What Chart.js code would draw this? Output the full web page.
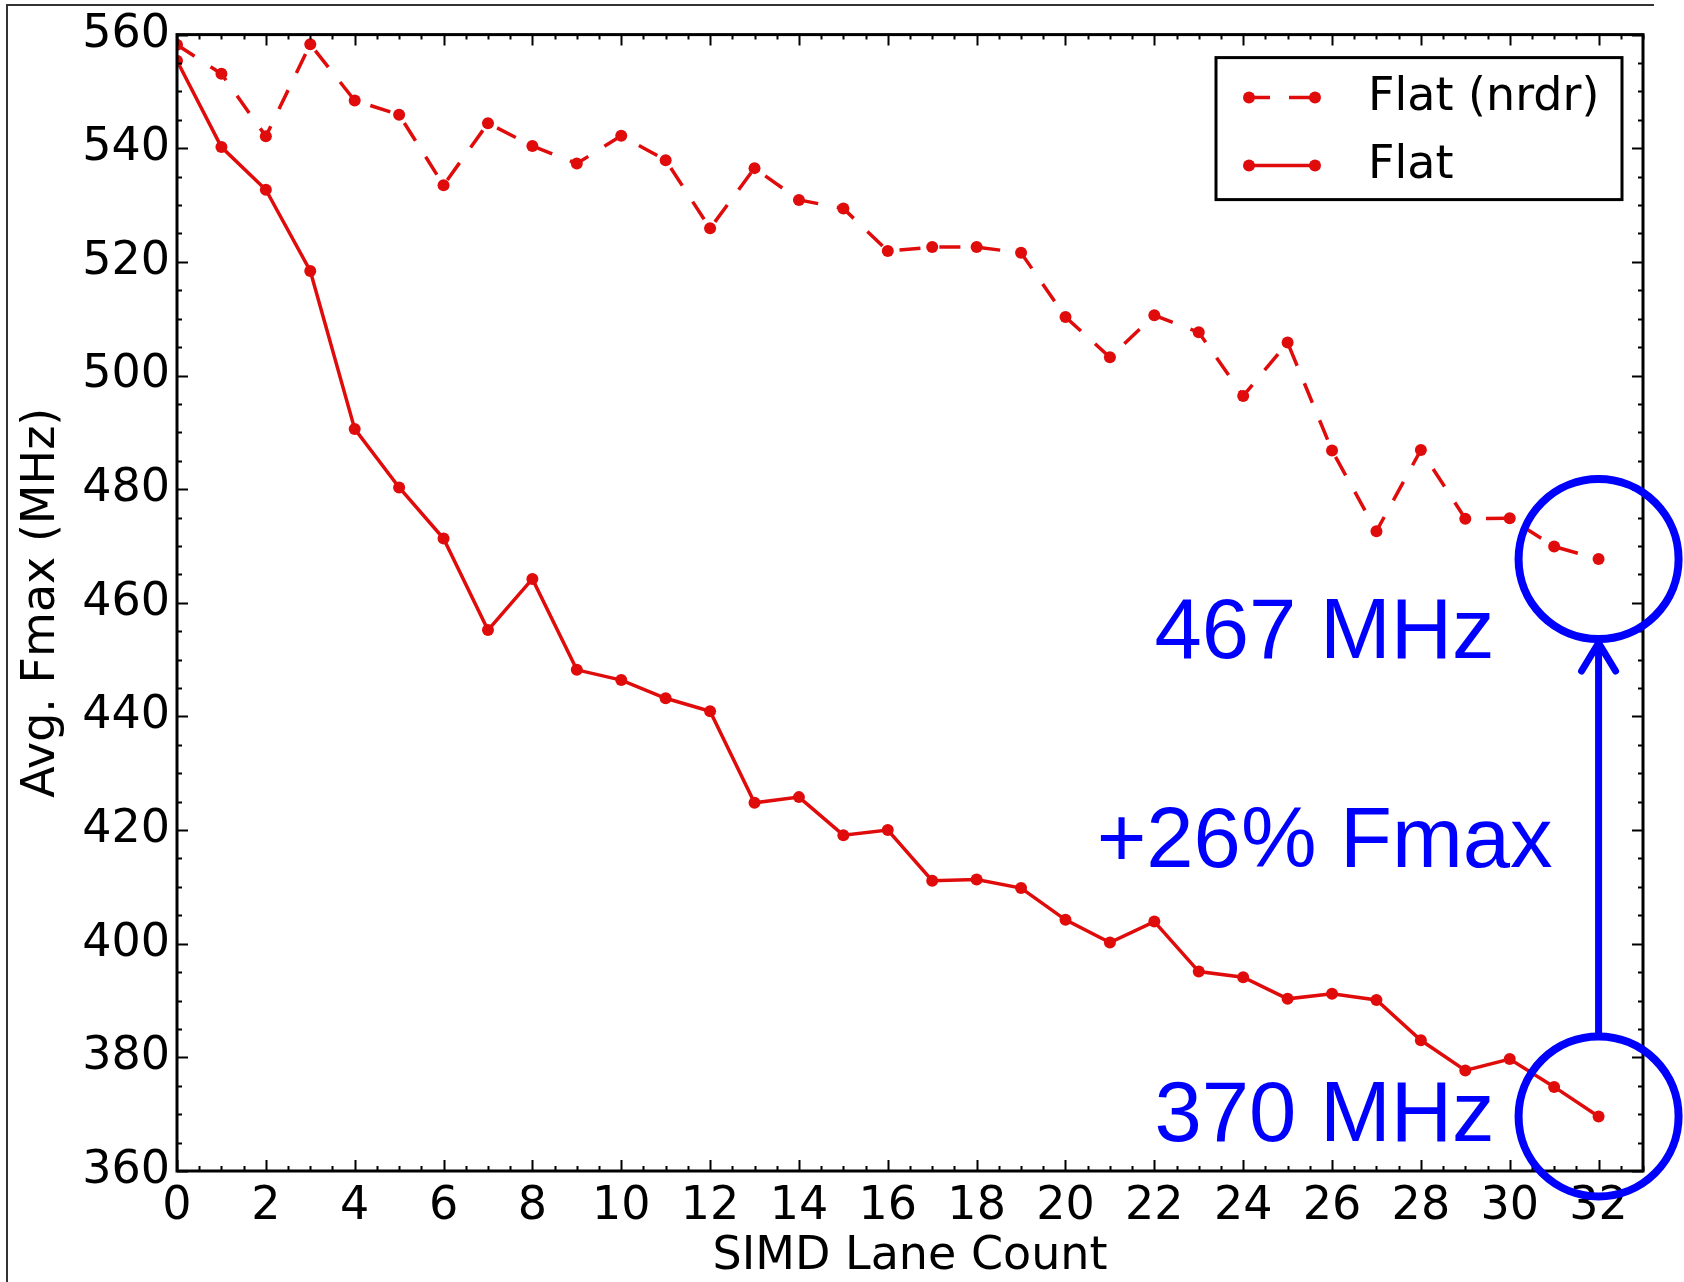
<!DOCTYPE html>
<html>
<head>
<meta charset="utf-8">
<script src="https://cdn.jsdelivr.net/npm/chart.js@4.4.0/dist/chart.umd.min.js"></script>
<style>
    html, body { margin: 0; padding: 0; background: #fff; }
    #contenedor { width: 1684px; height: 1282px; }
</style>
</head>
<body>
<div id="contenedor"><canvas id="graficaFmax" width="1684" height="1282"></canvas></div>
<script>
// Datos (Fmax promedio en MHz por número de carriles SIMD)
const laneCounts = [0, 1, 2, 3, 4, 5, 6, 7, 8, 9, 10, 11, 12, 13, 14, 15, 16,
                    17, 18, 19, 20, 21, 22, 23, 24, 25, 26, 27, 28, 29, 30, 31, 32];
const flatNrdr = [558.2, 553.1, 542.1, 558.3, 548.4, 545.9, 533.5, 544.4, 540.4, 537.3, 542.2,
                  537.9, 525.9, 536.5, 530.9, 529.4, 521.9, 522.6, 522.6, 521.6, 510.3, 503.2,
                  510.6, 507.6, 496.4, 505.8, 486.8, 472.6, 486.9, 474.8, 474.9, 469.9, 467.7];
const flat = [555.4, 540.2, 532.7, 518.4, 490.6, 480.3, 471.3, 455.2, 464.2, 448.2, 446.4,
              443.2, 440.9, 424.8, 425.8, 419.1, 420.0, 411.1, 411.3, 409.8, 404.2, 400.2,
              403.9, 395.1, 394.1, 390.3, 391.2, 390.1, 383.0, 377.7, 379.7, 374.8, 369.6];
const xTicks = [0, 2, 4, 6, 8, 10, 12, 14, 16, 18, 20, 22, 24, 26, 28, 30, 32];
const yTicks = [360, 380, 400, 420, 440, 460, 480, 500, 520, 540, 560];
const seriesNames = ['Flat (nrdr)', 'Flat'];
const notas = ['467 MHz', '+26% Fmax', '370 MHz'];

const rojo = '#e00c0c';
const azul = '#0000ff';
const fuenteEjes = "'DejaVu Sans', sans-serif";
const fuenteNotas = "'Liberation Sans', Arial, sans-serif";

Chart.defaults.font.family = fuenteEjes;
Chart.defaults.color = '#000';

function puntos(valores) {
    return laneCounts.map((x, i) => ({ x: x, y: valores[i] }));
}

// Marco del gráfico con marcas hacia dentro (estilo matplotlib)
const marcoEjes = {
    id: 'marcoEjes',
    beforeDraw(chart) {
        const ctx = chart.ctx;
        ctx.save();
        ctx.fillStyle = '#fff';
        ctx.fillRect(0, 0, chart.width, chart.height);
        // borde de la diapositiva recortada
        ctx.strokeStyle = '#333';
        ctx.lineWidth = 2;
        ctx.beginPath();
        ctx.moveTo(7, chart.height);
        ctx.lineTo(7, 5);
        ctx.lineTo(1654, 5);
        ctx.stroke();
        ctx.restore();
    },
    afterDatasetsDraw(chart) {
        const { ctx, chartArea: a, scales: { x, y } } = chart;
        ctx.save();
        ctx.strokeStyle = '#000';
        ctx.lineWidth = 2;
        ctx.beginPath();
        for (let v = x.min; v <= x.max + 1e-9; v += 0.5) {
            const px = Math.round(x.getPixelForValue(v)) + 0.5;
            const largo = xTicks.includes(v) ? 11 : 5;
            ctx.moveTo(px, a.bottom); ctx.lineTo(px, a.bottom - largo);
            ctx.moveTo(px, a.top); ctx.lineTo(px, a.top + largo);
        }
        for (let v = y.min; v <= y.max + 1e-9; v += 5) {
            const py = Math.round(y.getPixelForValue(v)) + 0.5;
            const largo = yTicks.includes(v) ? 11 : 5;
            ctx.moveTo(a.left, py); ctx.lineTo(a.left + largo, py);
            ctx.moveTo(a.right, py); ctx.lineTo(a.right - largo, py);
        }
        ctx.stroke();
        ctx.lineWidth = 3;
        ctx.strokeRect(a.left, a.top, a.right - a.left, a.bottom - a.top);
        ctx.restore();
    }
};

// Leyenda dibujada a mano (línea con dos marcadores como en matplotlib)
const leyendaPropia = {
    id: 'leyendaPropia',
    afterDraw(chart) {
        const { ctx, chartArea: a } = chart;
        const caja = { left: a.right - 427, top: a.top + 23, right: a.right - 21, bottom: a.top + 165 };
        ctx.save();
        ctx.fillStyle = '#fff';
        ctx.fillRect(caja.left, caja.top, caja.right - caja.left, caja.bottom - caja.top);
        ctx.strokeStyle = '#000';
        ctx.lineWidth = 3;
        ctx.strokeRect(caja.left, caja.top, caja.right - caja.left, caja.bottom - caja.top);
        const filas = [caja.top + 40, caja.top + 108];
        chart.data.datasets.forEach((ds, i) => {
            const yy = filas[i];
            const x1 = caja.left + 33, x2 = caja.left + 99;
            ctx.strokeStyle = ds.borderColor;
            ctx.lineWidth = ds.borderWidth;
            ctx.setLineDash(ds.borderDash || []);
            ctx.beginPath();
            ctx.moveTo(x1, yy);
            ctx.lineTo(x2, yy);
            ctx.stroke();
            ctx.setLineDash([]);
            ctx.fillStyle = ds.pointBackgroundColor;
            [x1, x2].forEach(px => {
                ctx.beginPath();
                ctx.arc(px, yy, ds.pointRadius, 0, Math.PI * 2);
                ctx.fill();
            });
            ctx.fillStyle = '#000';
            ctx.font = '46px ' + fuenteEjes;
            ctx.textAlign = 'left';
            ctx.textBaseline = 'middle';
            ctx.fillText(ds.label, caja.left + 152, yy);
        });
        ctx.restore();
    }
};

// Círculos, flecha y textos azules
const anotaciones = {
    id: 'anotaciones',
    afterDraw(chart) {
        const { ctx, scales: { x, y } } = chart;
        const ultimo = laneCounts.length - 1;
        const cx = x.getPixelForValue(laneCounts[ultimo]);
        const cyAlto = y.getPixelForValue(flatNrdr[ultimo]);
        const cyBajo = y.getPixelForValue(flat[ultimo]);
        const radio = 80;
        ctx.save();
        ctx.strokeStyle = azul;
        ctx.fillStyle = azul;
        ctx.lineWidth = 8;
        [cyAlto, cyBajo].forEach(cy => {
            ctx.beginPath();
            ctx.arc(cx, cy, radio, 0, Math.PI * 2);
            ctx.stroke();
        });
        // flecha vertical
        const punta = cyAlto + radio + 4;
        ctx.lineWidth = 7;
        ctx.lineCap = 'round';
        ctx.beginPath();
        ctx.moveTo(cx, cyBajo - radio);
        ctx.lineTo(cx, punta);
        ctx.moveTo(cx - 17, punta + 28);
        ctx.lineTo(cx, punta);
        ctx.lineTo(cx + 17, punta + 28);
        ctx.stroke();
        // textos
        ctx.font = '85px ' + fuenteNotas;
        ctx.textAlign = 'right';
        ctx.textBaseline = 'alphabetic';
        ctx.fillText(notas[0], cx - 104, cyAlto + 99);
        ctx.fillText(notas[1], cx - 46, (cyAlto + cyBajo) / 2 + 29);
        ctx.fillText(notas[2], cx - 104, cyBajo + 25);
        ctx.restore();
    }
};

const ctxFmax = document.getElementById('graficaFmax').getContext('2d');
new Chart(ctxFmax, {
    type: 'line',
    data: {
        datasets: [
            {
                label: seriesNames[0],
                data: puntos(flatNrdr),
                borderColor: rojo,
                borderWidth: 3.5,
                borderDash: [21, 19],
                pointRadius: 6,
                pointBackgroundColor: rojo,
                pointBorderWidth: 0,
                tension: 0,
                fill: false
            },
            {
                label: seriesNames[1],
                data: puntos(flat),
                borderColor: rojo,
                borderWidth: 3.5,
                pointRadius: 6,
                pointBackgroundColor: rojo,
                pointBorderWidth: 0,
                tension: 0,
                fill: false
            }
        ]
    },
    options: {
        responsive: false,
        animation: false,
        devicePixelRatio: 1,
        layout: { padding: { top: 34, right: 41, left: 0, bottom: 0 } },
        scales: {
            x: {
                type: 'linear',
                min: 0,
                max: 33,
                afterBuildTicks: s => { s.ticks = xTicks.map(v => ({ value: v })); },
                afterFit: s => { s.height = 111; },
                grid: { display: false, drawTicks: false },
                border: { display: false },
                ticks: { font: { size: 46 }, color: '#000', padding: 8, maxRotation: 0, autoSkip: false },
                title: { display: true, text: 'SIMD Lane Count', font: { size: 46, lineHeight: 1.0 }, color: '#000', padding: { top: 0, bottom: 2 } }
            },
            y: {
                min: 360,
                max: 560,
                afterBuildTicks: s => { s.ticks = yTicks.map(v => ({ value: v })); },
                afterFit: s => { s.width = 177; },
                grid: { display: false, drawTicks: false },
                border: { display: false },
                ticks: { font: { size: 46 }, color: '#000', padding: 7, autoSkip: false },
                title: { display: true, text: 'Avg. Fmax (MHz)', font: { size: 46 }, color: '#000', padding: { top: 14, bottom: 0 } }
            }
        },
        plugins: {
            legend: { display: false },
            tooltip: { enabled: false }
        }
    },
    plugins: [marcoEjes, leyendaPropia, anotaciones]
});
</script>
</body>
</html>
